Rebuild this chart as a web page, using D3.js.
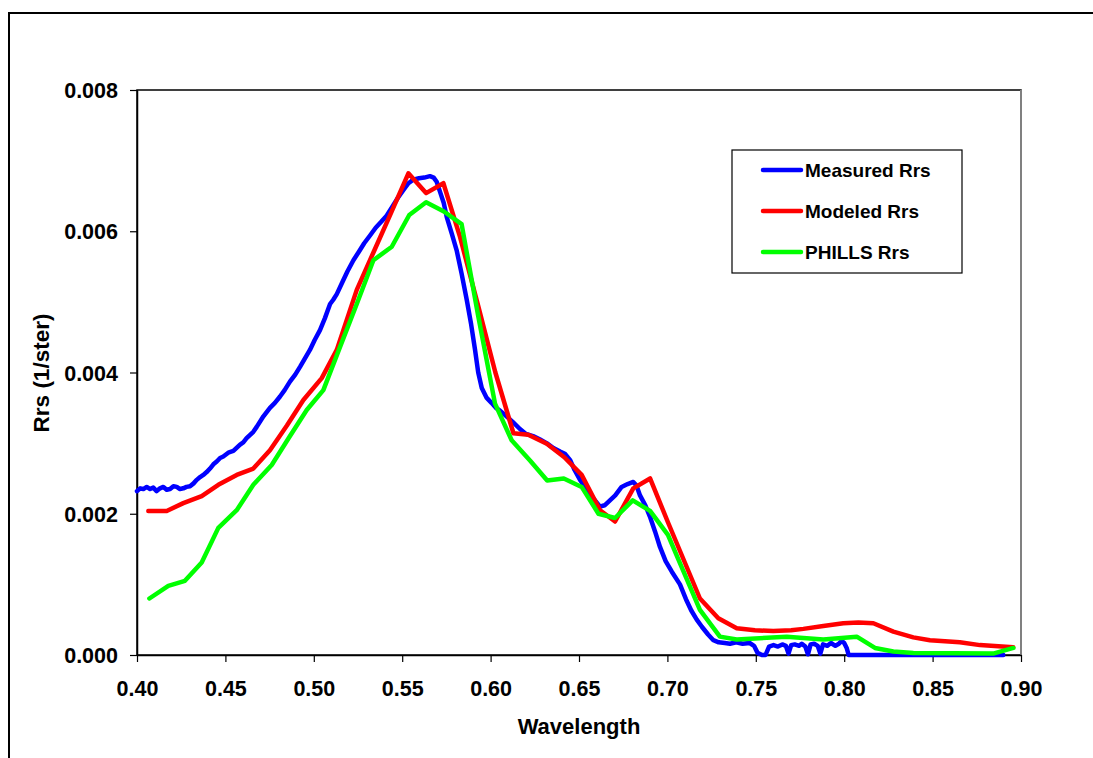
<!DOCTYPE html>
<html>
<head>
<meta charset="utf-8">
<script src="https://cdn.jsdelivr.net/npm/d3@7/dist/d3.min.js"></script>
<style>
  body { margin: 0; background: #fff; }
  text { font-family: "Liberation Sans", Arial, sans-serif; font-weight: bold; fill: #000; }
</style>
</head>
<body>
<div id="area"></div>
<script>
// measured spectrum (dense)
var measuredWl = [0.400,0.4018,0.4036,0.4055,0.4074,0.4092,0.4111,0.413,0.4149,0.4168,0.4187,0.4206,0.4225,0.4243,0.4262,0.428,0.430,0.432,0.4338,0.4357,0.4375,0.4394,0.4413,0.4432,0.4451,0.447,0.4488,0.452,0.4545,0.4583,0.4601,0.462,0.4658,0.4677,0.4715,0.4752,0.478,0.4809,0.4835,0.4865,0.4895,0.4922,0.495,0.4978,0.5005,0.5035,0.5063,0.5092,0.511,0.513,0.516,0.519,0.5224,0.5255,0.5285,0.5318,0.535,0.538,0.5412,0.5445,0.5475,0.5506,0.5535,0.5563,0.5595,0.5625,0.5657,0.5678,0.5695,0.5715,0.5735,0.5752,0.578,0.5808,0.5836,0.5865,0.589,0.5912,0.593,0.595,0.5978,0.6005,0.603,0.6053,0.609,0.6125,0.6166,0.620,0.624,0.628,0.6317,0.6355,0.6393,0.642,0.645,0.6475,0.6506,0.654,0.658,0.6619,0.6645,0.6675,0.6705,0.6741,0.6775,0.6807,0.6825,0.6845,0.6875,0.6901,0.693,0.6958,0.699,0.7025,0.7071,0.7105,0.7135,0.7166,0.7195,0.723,0.726,0.729,0.7325,0.7354,0.739,0.7425,0.7465,0.749,0.751,0.7535,0.7555,0.7575,0.760,0.7625,0.765,0.767,0.7685,0.770,0.772,0.7745,0.776,0.778,0.7795,0.781,0.783,0.785,0.7865,0.788,0.7905,0.7925,0.795,0.797,0.7985,0.800,0.8014,0.8025,0.890];
var measuredRrs = [0.00232,0.00236,0.00235,0.00238,0.00235,0.00237,0.00232,0.00236,0.00238,0.00234,0.00235,0.00239,0.00238,0.00235,0.00236,0.00238,0.00239,0.00243,0.00248,0.00252,0.00255,0.00259,0.00264,0.00270,0.00274,0.00279,0.00281,0.00287,0.00289,0.00298,0.00301,0.00307,0.00316,0.00323,0.00338,0.00350,0.00357,0.00366,0.00375,0.00387,0.00397,0.00408,0.00420,0.00432,0.00446,0.00460,0.00477,0.00497,0.00503,0.00511,0.00527,0.00543,0.00559,0.00571,0.00583,0.00594,0.00605,0.00613,0.00622,0.00635,0.00647,0.00658,0.00668,0.00673,0.00675,0.00676,0.00678,0.00676,0.00670,0.00655,0.00640,0.00620,0.00597,0.00573,0.00540,0.00503,0.00468,0.00432,0.00400,0.00378,0.00364,0.00357,0.00350,0.00346,0.00338,0.00330,0.00320,0.00313,0.00310,0.00305,0.00300,0.00293,0.00288,0.00285,0.00276,0.00262,0.00248,0.00236,0.00222,0.00210,0.00212,0.00219,0.00226,0.00238,0.00242,0.00245,0.00240,0.00226,0.00212,0.00196,0.00175,0.00153,0.00133,0.00118,0.00100,0.00079,0.00063,0.00050,0.00040,0.00029,0.00021,0.00018,0.00017,0.00016,0.00018,0.00016,0.00017,0.00013,0.00003,0.0,0.0,0.00012,0.00014,0.00012,0.00015,0.00013,0.00002,0.00014,0.00015,0.00013,0.00016,0.00012,0.00001,0.00015,0.00016,0.00013,0.00002,0.00015,0.00013,0.00017,0.00013,0.00016,0.00020,0.00017,0.00010,0.0,0.0];

// modeled spectrum (band centres)
var modeledWl = [0.4064,0.4168,0.4262,0.4366,0.446,0.4564,0.4658,0.4752,0.4848,0.4941,0.5045,0.513,0.5243,0.5339,0.5437,0.5535,0.5635,0.5733,0.5827,0.5929,0.6027,0.6129,0.6213,0.6318,0.6417,0.6515,0.6619,0.6704,0.6807,0.6902,0.7003,0.7184,0.7288,0.7392,0.7495,0.7599,0.770,0.7769,0.7882,0.7995,0.808,0.8165,0.8278,0.8391,0.8485,0.8654,0.8768,0.8956];
var modeledRrs = [0.00204,0.00204,0.00215,0.00225,0.00241,0.00255,0.00264,0.00290,0.00325,0.00361,0.00392,0.00432,0.00517,0.00571,0.00626,0.00682,0.00654,0.00668,0.00592,0.00495,0.00400,0.00314,0.00312,0.00299,0.00280,0.00255,0.00205,0.00189,0.00236,0.00250,0.00188,0.00080,0.00052,0.00038,0.00035,0.00034,0.00035,0.00037,0.00041,0.00045,0.00046,0.00045,0.00033,0.00025,0.00021,0.00018,0.00014,0.00011];

// PHILLS spectrum
var phillsWl = [0.407,0.4177,0.4271,0.4366,0.446,0.4564,0.4658,0.4762,0.486,0.496,0.5054,0.5148,0.5243,0.5337,0.5441,0.554,0.5635,0.5736,0.5836,0.593,0.6025,0.6119,0.6224,0.632,0.6414,0.6515,0.661,0.6704,0.6804,0.6902,0.7003,0.7071,0.7184,0.7297,0.7392,0.7675,0.7882,0.8071,0.8174,0.8278,0.8391,0.8843,0.8957];
var phillsRrs = [0.0008,0.00098,0.00105,0.00131,0.0018,0.00205,0.00241,0.00269,0.00308,0.00347,0.00375,0.00436,0.00497,0.00559,0.00578,0.00623,0.00641,0.00628,0.0061,0.0048,0.00356,0.00304,0.00275,0.00247,0.0025,0.00238,0.002,0.00194,0.00219,0.00204,0.0017,0.0013,0.00064,0.00026,0.00022,0.00026,0.00022,0.00026,0.0001,0.00005,0.00003,0.00002,0.0001];

var seriesNames = ["Measured Rrs", "Modeled Rrs", "PHILLS Rrs"];
var seriesColors = ["#0000ff", "#ff0000", "#00ff00"];
var xTicks = [0.40,0.45,0.50,0.55,0.60,0.65,0.70,0.75,0.80,0.85,0.90];
var yTicks = [0.000,0.002,0.004,0.006,0.008];

var W = 1093, H = 758;
var margin = {top: 90, right: 72, bottom: 103, left: 137},
    width = W - margin.left - margin.right,
    height = H - margin.top - margin.bottom;

var svg = d3.select('#area').append('svg')
            .attr('width', W)
            .attr('height', H);

// outer chart frame (runs off the right/bottom edge)
svg.append('path')
   .attr('d', 'M9,' + (H + 5) + 'V13H' + (W + 5))
   .attr('fill', 'none')
   .attr('stroke', '#000')
   .attr('stroke-width', 2);

var g = svg.append('g')
           .attr('transform', 'translate(' + margin.left + ',' + margin.top + ')');

var x = d3.scaleLinear().domain([0.4, 0.9]).range([0, width]);
var y = d3.scaleLinear().domain([0, 0.008]).range([height, 0]);

// plot area border
g.append('rect')
 .attr('width', width)
 .attr('height', height)
 .attr('fill', 'none')
 .attr('stroke', '#000')
 .attr('stroke-width', 1.5);
g.append('line')
 .attr('x1', width).attr('x2', width)
 .attr('y1', 0).attr('y2', height)
 .attr('stroke', '#808080')
 .attr('stroke-width', 2);

var xAxis = d3.axisBottom(x)
              .tickValues(xTicks)
              .tickFormat(d3.format('.2f'))
              .tickSizeInner(7)
              .tickSizeOuter(0)
              .tickPadding(19);
var yAxis = d3.axisLeft(y)
              .tickValues(yTicks)
              .tickFormat(d3.format('.3f'))
              .tickSizeInner(7)
              .tickSizeOuter(0)
              .tickPadding(12);

var gx = g.append('g').attr('transform', 'translate(0,' + height + ')').call(xAxis);
var gy = g.append('g').call(yAxis);
[gx, gy].forEach(function(a) {
  a.select('.domain').attr('stroke', '#000').attr('stroke-width', 1.5);
  a.selectAll('.tick line').attr('stroke', '#000').attr('stroke-width', 1.2);
  a.selectAll('.tick text')
   .style('font-family', '"Liberation Sans", Arial, sans-serif')
   .style('font-weight', 'bold')
   .style('font-size', '21.5px')
   .attr('fill', '#000');
});
gy.selectAll('.tick text').attr('dy', '0.35em');

// series
var line = d3.line()
             .x(function(d) { return x(d[0]); })
             .y(function(d) { return y(d[1]); });

var series = [
  d3.zip(measuredWl, measuredRrs),
  d3.zip(modeledWl, modeledRrs),
  d3.zip(phillsWl, phillsRrs)
];

g.selectAll('.series')
 .data(series)
 .enter().append('path')
 .attr('class', 'series')
 .attr('d', line)
 .attr('fill', 'none')
 .attr('stroke', function(d, i) { return seriesColors[i]; })
 .attr('stroke-width', 4.5)
 .attr('stroke-linejoin', 'round')
 .attr('stroke-linecap', 'round');

// axis titles
svg.append('text')
   .attr('x', margin.left + width / 2)
   .attr('y', 734)
   .attr('text-anchor', 'middle')
   .style('font-size', '22px')
   .text('Wavelength');

svg.append('text')
   .attr('transform', 'translate(49,373) rotate(-90)')
   .attr('text-anchor', 'middle')
   .style('font-size', '22.5px')
   .text('Rrs (1/ster)');

// legend
var legend = svg.append('g').attr('transform', 'translate(732,150)');
legend.append('rect')
      .attr('width', 230)
      .attr('height', 123)
      .attr('fill', '#fff')
      .attr('stroke', '#000')
      .attr('stroke-width', 1.2);

var item = legend.selectAll('.item')
                 .data(seriesNames)
                 .enter().append('g')
                 .attr('class', 'item')
                 .attr('transform', function(d, i) { return 'translate(0,' + (20 + i * 41) + ')'; });
item.append('line')
    .attr('x1', 31).attr('x2', 69)
    .attr('stroke', function(d, i) { return seriesColors[i]; })
    .attr('stroke-width', 4.5)
    .attr('stroke-linecap', 'round');
item.append('text')
    .attr('x', 73)
    .attr('dy', '0.35em')
    .style('font-size', '19px')
    .text(function(d) { return d; });
</script>
</body>
</html>
